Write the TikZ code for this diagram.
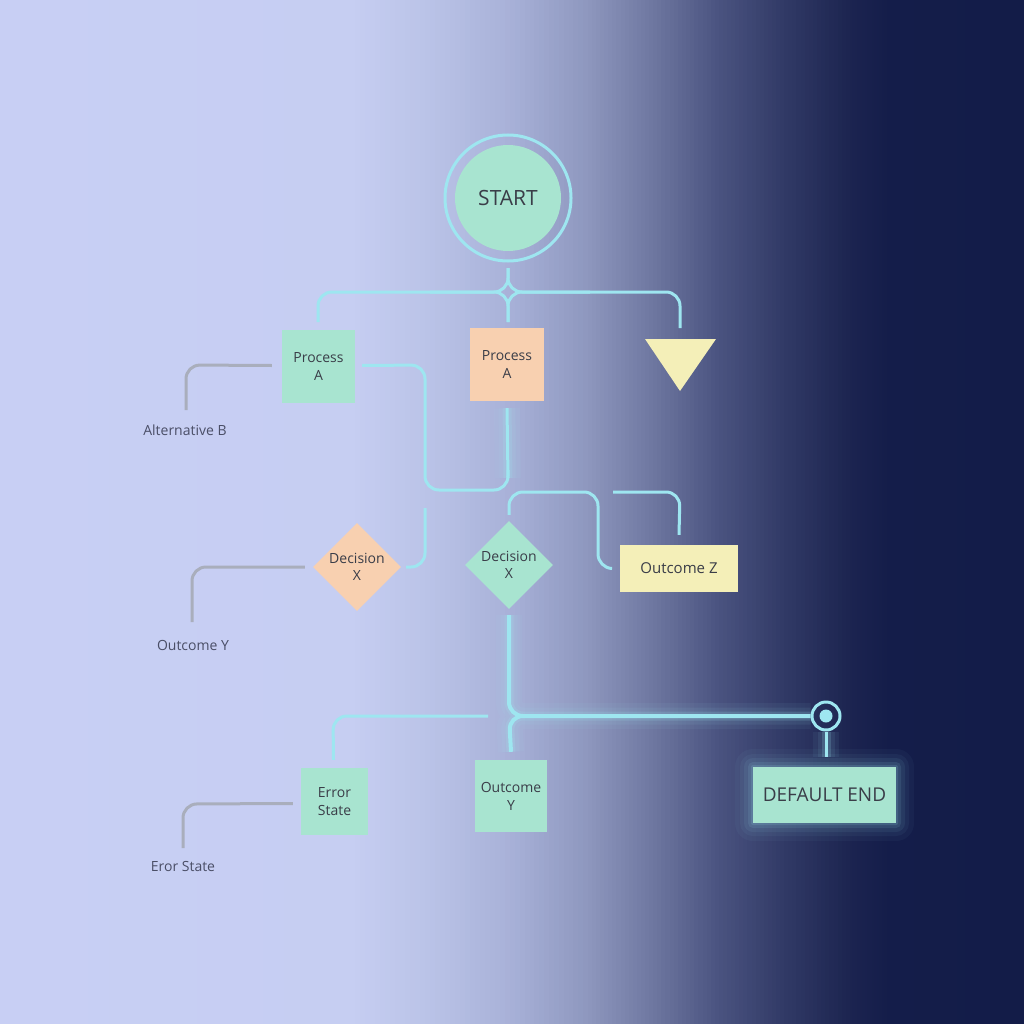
\documentclass[tikz,border=0pt]{standalone}
\usepackage{fontspec}
\setmainfont{Open Sans}
\usetikzlibrary{shapes.geometric,calc}
\definecolor{s0}{HTML}{C8CFF4}
\definecolor{s1}{HTML}{C6CEF2}
\definecolor{s2}{HTML}{BAC3E7}
\definecolor{s3}{HTML}{A8B1D8}
\definecolor{s4}{HTML}{8E97BE}
\definecolor{s5}{HTML}{6E77A0}
\definecolor{s6}{HTML}{4A5380}
\definecolor{s7}{HTML}{313A66}
\definecolor{s8}{HTML}{1C2450}
\definecolor{s9}{HTML}{141D4A}
\definecolor{s10}{HTML}{131C48}
\definecolor{mint}{HTML}{A8E4D0}
\definecolor{peach}{HTML}{F8D0B0}
\definecolor{cream}{HTML}{F4EFB8}
\definecolor{cyanl}{HTML}{9EE6F0}
\definecolor{grayl}{HTML}{A9AEBC}
\definecolor{txt}{HTML}{3A3D48}
\definecolor{lbl}{HTML}{4A4E66}
\tikzset{
  box/.style={rectangle, fill=#1, inner sep=0pt, align=center, text=txt, font=\fontsize{14}{18}\selectfont},
  dia/.style={diamond, fill=#1, inner sep=0pt, minimum width=88pt, minimum height=88pt},
  conn/.style={draw=cyanl, line width=3pt, rounded corners=14pt},
  gconn/.style={draw=grayl, line width=3pt, rounded corners=14pt},
  glow/.style={preaction={draw=cyanl, line width=26pt, opacity=0.06},
               preaction={draw=cyanl, line width=17pt, opacity=0.08},
               preaction={draw=cyanl, line width=9pt, opacity=0.18}},
  lab/.style={text=lbl, font=\fontsize{14}{17}\selectfont, inner sep=0pt}
}
\begin{document}
\begin{tikzpicture}[x=1pt,y=-1pt]
\useasboundingbox (0,0) rectangle (1024,1024);
% background gradient in strips
\foreach \xa/\xb/\ca/\cb in {0/350/s0/s1, 350/430/s1/s2, 430/510/s2/s3, 510/588/s3/s4, 588/653/s4/s5, 653/719/s5/s6, 719/784/s6/s7, 784/850/s7/s8, 850/889/s8/s9, 889/1024/s9/s10}{
  \foreach \i in {0,...,15}{
    \pgfmathsetmacro\p{(\i+0.5)/16*100}
    \pgfmathsetmacro\xl{\xa+(\xb-\xa)*\i/16}
    \pgfmathsetmacro\xr{\xa+(\xb-\xa)*(\i+1)/16+0.6}
    \fill[\cb!\p!\ca] (\xl,0) rectangle (\xr,1024);
  }
}

% START
\node[circle, draw=cyanl, line width=3pt, minimum size=126pt, inner sep=0pt] (startring) at (508,198) {};
\node[circle, fill=mint, minimum size=106pt, inner sep=0pt, text=txt, font=\fontsize{21}{24}\selectfont] (start) at (508,198) {START};

% Row 1
\node[box=mint, minimum width=73pt, minimum height=73pt] (pA1) at (318.5,366.5) {Process\\A};
\node[box=peach, minimum width=74pt, minimum height=73pt] (pA2) at (507,364.5) {Process\\A};
\fill[cream] (645,339) -- (716,339) -- (680,391) -- cycle;
\coordinate (tri) at (680,339);

% Row 2
\node[dia=peach, label={[text=txt, font=\fontsize{14}{17}\selectfont, align=center]center:Decision\\X}] (dX1) at (357,567) {};
\node[dia=mint, label={[text=txt, font=\fontsize{14}{17}\selectfont, align=center]center:Decision\\X}] (dX2) at (509,565) {};
\node[box=cream, minimum width=118pt, minimum height=47pt, font=\fontsize{15}{18}\selectfont] (oZ) at (679,568.5) {Outcome Z};

% Row 3
\node[box=mint, minimum width=67pt, minimum height=67pt] (err) at (334.5,801.5) {Error\\State};
\node[box=mint, minimum width=72pt, minimum height=72pt] (oY) at (511,796) {Outcome\\Y};
\foreach \g/\o in {18/0.04, 13/0.05, 9/0.07, 5/0.1, 2/0.14}
  \fill[cyanl, opacity=\o, rounded corners=\g pt] ($(753,767)-(\g,\g)$) rectangle ($(896,823)+(\g,\g)$);
\node[box=mint, minimum width=143pt, minimum height=56pt, font=\fontsize{19}{22}\selectfont] (dend) at (824.5,795) {DEFAULT END};

% Labels
\node[lab] (altB) at (185,430) {Alternative B};
\node[lab] (outY) at (193,645) {Outcome Y};
\node[lab] (eror) at (183,866) {Eror State};

% Junctions
\coordinate (j1) at (508,292);
\coordinate (j2) at (509,716);
\node[circle, draw=cyanl, line width=3pt, minimum size=28pt, inner sep=0pt] (tgt) at (826,716) {};
\node[circle, fill=cyanl, minimum size=13pt, inner sep=0pt] (tgtdot) at (tgt) {};

% Connectors from START
\draw[conn] (508,268) -- (j1) -- (318,292) -- (318,322);
\draw[conn] (508,268) -- (j1) -- (680,292) -- (680,328);
\draw[conn] (430,292) -- (j1) -- (508,322);
\draw[conn] (590,292) -- (j1) -- (508,322);

% Process A loop
\draw[conn] ($(pA1.east)+(7,-1)$) -- (425,365) -- (425,490) -- (508,490) -- (508,470);
\draw[conn, glow, rounded corners=0pt] (508,478) -- ($(pA2.south)+(0,7)$);

% Decision X (green) up to Outcome Z
\draw[conn] ($(dX2.north)+(0,-6)$) -- (509,492) -- (598,492) -- (598,568) -- ($(oZ.west)+(-8,0)$);
\draw[conn] (613,492) -- (680,492) -- ($(oZ.north)+(0,-10)$);

% Decision X (orange) right side
\draw[conn] (425,508) -- (425,567) -- ($(dX1.east)+(5,0)$);

% Bottom main line (one path so the glow does not double)
\draw[conn, glow, line width=4pt] ($(dX2.south)+(0,6)$) -- (j2) -- (tgt.west)
      (600,716) -- (j2) -- ($(oY.north)+(0,-8)$);
\draw[conn] (488,716) -- (333,716) -- ($(err.north)+(-1,-8)$);
\draw[conn, glow, rounded corners=0pt] (tgt.south) -- ($(dend.north)+(1.5,-10)$);

% Gray connectors
\draw[gconn] ($(pA1.west)+(-10,-1)$) -- (186,365) -- (186,410);
\draw[gconn] ($(dX1.west)+(-8,0)$) -- (192,567) -- (192,622);
\draw[gconn] ($(err.west)+(-8,2)$) -- (183,804) -- (183,848);
\end{tikzpicture}
\end{document}
